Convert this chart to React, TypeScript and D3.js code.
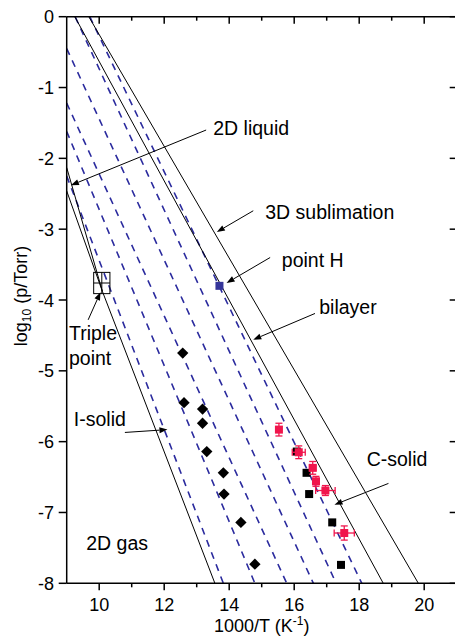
import React from "react";
import * as d3 from "d3";

// ---- data ----
const X_DOMAIN = [9, 21];
const Y_DOMAIN = [-8, 0];
const X_MAJOR = [10, 12, 14, 16, 18, 20];
const X_MINOR = [11, 13, 15, 17, 19];
const Y_TICKS = [0, -1, -2, -3, -4, -5, -6, -7, -8];

// black diamonds (I-solid isosteric points)
const diamondX = [12.57, 12.61, 13.18, 13.18, 13.31, 13.82, 13.84, 14.36, 14.79];
const diamondY = [-4.75, -5.45, -5.54, -5.74, -6.14, -6.44, -6.74, -7.14, -7.73];

// black squares (C-solid)
const squareX = [16.08, 16.38, 16.46, 17.17, 17.44];
const squareY = [-6.14, -6.44, -6.74, -7.14, -7.74];

// red squares with error bars
const redX = [15.53, 16.14, 16.57, 16.67, 16.96, 17.54];
const redY = [-5.83, -6.15, -6.37, -6.56, -6.69, -7.29];
const redXErr = [0.0, 0.2, 0.1, 0.1, 0.3, 0.31];
const redYErr = [0.09, 0.09, 0.09, 0.07, 0.07, 0.1];

// point H
const pointH = [13.7, -3.8];

// triple point (centre, x-err, y-err)
const triple = [10.08, -3.76];
const tripleErr = [0.25, 0.15];

// solid phase lines: [x1, y1, x2, y2]
const bilayerLine = [9.25, 0, 18.74, -8];
const sublimationLine = [9.68, 0, 19.82, -8];
const iSolidLine = [10.1, -3.88, 13.56, -8];
const liquidUpper = [9, -2.13, 10.1, -3.88];
const liquidLower = [9, -2.46, 10.1, -3.88];

// dashed isosteres: [x1, y1, x2, y2]
const isosteres = [
  [9, -2.25, 13.82, -8],
  [9, -1.62, 14.79, -8],
  [9, -1.22, 15.77, -8],
  [9, -0.45, 16.59, -8],
  [9.26, 0, 17.29, -8],
  [9.71, 0, 18.08, -8],
];

// annotations: text, text x, text y, arrow from (x,y) to (x,y)
const annotations = [
  { text: "2D liquid", tx: 13.51, ty: -1.67, a: [13.29, -1.6, 9.13, -2.38] },
  { text: "3D sublimation", tx: 15.11, ty: -2.85, a: [14.74, -2.74, 13.62, -3.04] },
  { text: "point H", tx: 15.62, ty: -3.53, a: [15.26, -3.4, 13.92, -3.76] },
  { text: "bilayer", tx: 16.77, ty: -4.2, a: [16.64, -4.19, 14.74, -4.56] },
  { text: "C-solid", tx: 18.23, ty: -6.34, a: [18.9, -6.59, 17.24, -6.89] },
  { text: "I-solid", tx: 9.22, ty: -5.78, a: [10.79, -5.87, 12.1, -5.83] },
  { text: "2D gas", tx: 9.6, ty: -7.53, a: null },
];
const tripleLabel = { lines: ["Triple", "point"], tx: 9.07, ty: -4.56, a: [9.66, -4.28, 10.04, -3.89] };

const FONT = "'Liberation Sans', Arial, Helvetica, sans-serif";

function Arrow({ x1, y1, x2, y2 }) {
  const dx = x2 - x1, dy = y2 - y1;
  const len = Math.sqrt(dx * dx + dy * dy);
  const ux = dx / len, uy = dy / len;
  const L = 8, W = 3;
  const bx = x2 - ux * L, by = y2 - uy * L;
  const pts = [
    [x2, y2],
    [bx - uy * W, by + ux * W],
    [bx + uy * W, by - ux * W],
  ];
  return (
    <g>
      <line x1={x1} y1={y1} x2={bx} y2={by} stroke="#000" strokeWidth={1} />
      <polygon points={pts.map((p) => p.join(",")).join(" ")} fill="#000" />
    </g>
  );
}

export default function App() {
  const W = 455, H = 637;
  const x = d3.scaleLinear().domain(X_DOMAIN).range([66.7, 456.7]);
  const y = d3.scaleLinear().domain(Y_DOMAIN).range([583.3, 16.7]);
  const [x0, x1] = x.range();
  const [yb, yt] = y.range();

  const seg = (s, key, props) => (
    <line key={key} x1={x(s[0])} y1={y(s[1])} x2={x(s[2])} y2={y(s[3])} {...props} />
  );

  return (
    <svg
      width={W}
      height={H}
      style={{ position: "absolute", left: 0, top: 0, background: "#fff" }}
      fontFamily={FONT}
    >
      <defs>
        <clipPath id="plot">
          <rect x={x0} y={yt} width={x1 - x0} height={yb - yt} />
        </clipPath>
      </defs>

      <g clipPath="url(#plot)">
        {isosteres.map((s, i) =>
          seg(s, "iso" + i, { stroke: "#2b2b9e", strokeWidth: 1.6, strokeDasharray: "7,6" })
        )}
        {[bilayerLine, sublimationLine, iSolidLine, liquidUpper, liquidLower].map((s, i) =>
          seg(s, "sol" + i, { stroke: "#000", strokeWidth: 1 })
        )}
      </g>

      {/* frame */}
      <line x1={x0} y1={yb} x2={x1} y2={yb} stroke="#000" strokeWidth={1.5} />
      <line x1={x0} y1={yt} x2={x1} y2={yt} stroke="#000" strokeWidth={1.5} />
      <line x1={x0} y1={yt} x2={x0} y2={yb} stroke="#000" strokeWidth={1.5} />
      <line x1={x1} y1={yt} x2={x1} y2={yb} stroke="#000" strokeWidth={1.5} />

      {/* x ticks */}
      {X_MAJOR.map((v) => (
        <g key={"xm" + v}>
          <line x1={x(v)} x2={x(v)} y1={yb} y2={yb + 7} stroke="#000" strokeWidth={1.5} />
          <line x1={x(v)} x2={x(v)} y1={yt} y2={yt + 7} stroke="#000" strokeWidth={1.5} />
          <text x={x(v)} y={611} fontSize={18} textAnchor="middle">{v}</text>
        </g>
      ))}
      {X_MINOR.map((v) => (
        <g key={"xn" + v}>
          <line x1={x(v)} x2={x(v)} y1={yb} y2={yb + 4} stroke="#000" strokeWidth={1.5} />
          <line x1={x(v)} x2={x(v)} y1={yt} y2={yt + 4} stroke="#000" strokeWidth={1.5} />
        </g>
      ))}
      {/* y ticks */}
      {Y_TICKS.map((v) => (
        <g key={"y" + v}>
          <line x1={x0 - 8} x2={x0} y1={y(v)} y2={y(v)} stroke="#000" strokeWidth={1.5} />
          <line x1={x1 - 7} x2={x1} y1={y(v)} y2={y(v)} stroke="#000" strokeWidth={1.5} />
          <text x={54} y={y(v) + 6.5} fontSize={18} textAnchor="end">{v}</text>
        </g>
      ))}

      {/* axis titles */}
      <text x={x((X_DOMAIN[0] + X_DOMAIN[1]) / 2)} y={632} fontSize={18} textAnchor="middle">
        1000/T (K<tspan fontSize={12} dy={-7}>-1</tspan><tspan dy={7}>)</tspan>
      </text>
      <text transform="rotate(-90)" x={-296} y={27} fontSize={18} textAnchor="middle">
        log<tspan fontSize={12} dy={4}>10</tspan><tspan dy={-4}> (p/Torr)</tspan>
      </text>

      {/* triple point */}
      <g stroke="#000" strokeWidth={1} fill="none">
        <rect
          x={x(triple[0] - tripleErr[0])}
          y={y(triple[1] + tripleErr[1])}
          width={x(triple[0] + tripleErr[0]) - x(triple[0] - tripleErr[0])}
          height={y(triple[1] - tripleErr[1]) - y(triple[1] + tripleErr[1])}
        />
        <line x1={x(triple[0])} x2={x(triple[0])} y1={y(triple[1] + tripleErr[1])} y2={y(triple[1] - tripleErr[1])} />
        <line x1={x(triple[0] - tripleErr[0])} x2={x(triple[0] + tripleErr[0])} y1={y(triple[1])} y2={y(triple[1])} />
      </g>

      {/* diamonds */}
      {diamondX.map((v, i) => (
        <rect key={"d" + i} x={x(v) - 4} y={y(diamondY[i]) - 4} width={8} height={8}
          transform={`rotate(45 ${x(v)} ${y(diamondY[i])})`} fill="#000" />
      ))}
      {/* black squares */}
      {squareX.map((v, i) => (
        <rect key={"s" + i} x={x(v) - 4} y={y(squareY[i]) - 4} width={8} height={8} fill="#000" />
      ))}
      {/* red squares with error bars */}
      {redX.map((v, i) => {
        const cx = x(v), cy = y(redY[i]);
        const xl = x(v - redXErr[i]), xr = x(v + redXErr[i]);
        const yu = y(redY[i] + redYErr[i]), yd = y(redY[i] - redYErr[i]);
        const c = "#f0154c";
        return (
          <g key={"r" + i} stroke={c} strokeWidth={1.3}>
            <line x1={cx} x2={cx} y1={yu} y2={yd} />
            <line x1={cx - 3.5} x2={cx + 3.5} y1={yu} y2={yu} />
            <line x1={cx - 3.5} x2={cx + 3.5} y1={yd} y2={yd} />
            {redXErr[i] > 0 && (
              <g>
                <line x1={xl} x2={xr} y1={cy} y2={cy} />
                <line x1={xl} x2={xl} y1={cy - 3.5} y2={cy + 3.5} />
                <line x1={xr} x2={xr} y1={cy - 3.5} y2={cy + 3.5} />
              </g>
            )}
            <rect x={cx - 4} y={cy - 4} width={8} height={8} fill={c} stroke="none" />
          </g>
        );
      })}
      {/* point H */}
      <rect x={x(pointH[0]) - 4} y={y(pointH[1]) - 4} width={8} height={8} fill="#35359a" />

      {/* annotations */}
      {annotations.map((a, i) => (
        <g key={"a" + i}>
          <text x={x(a.tx)} y={y(a.ty)} fontSize={19.5}>{a.text}</text>
          {a.a && <Arrow x1={x(a.a[0])} y1={y(a.a[1])} x2={x(a.a[2])} y2={y(a.a[3])} />}
        </g>
      ))}
      <text x={x(tripleLabel.tx)} y={y(tripleLabel.ty)} fontSize={19.5}>
        <tspan x={x(tripleLabel.tx)}>{tripleLabel.lines[0]}</tspan>
        <tspan x={x(tripleLabel.tx)} dy={25}>{tripleLabel.lines[1]}</tspan>
      </text>
      <Arrow x1={x(tripleLabel.a[0])} y1={y(tripleLabel.a[1])} x2={x(tripleLabel.a[2])} y2={y(tripleLabel.a[3])} />
    </svg>
  );
}
